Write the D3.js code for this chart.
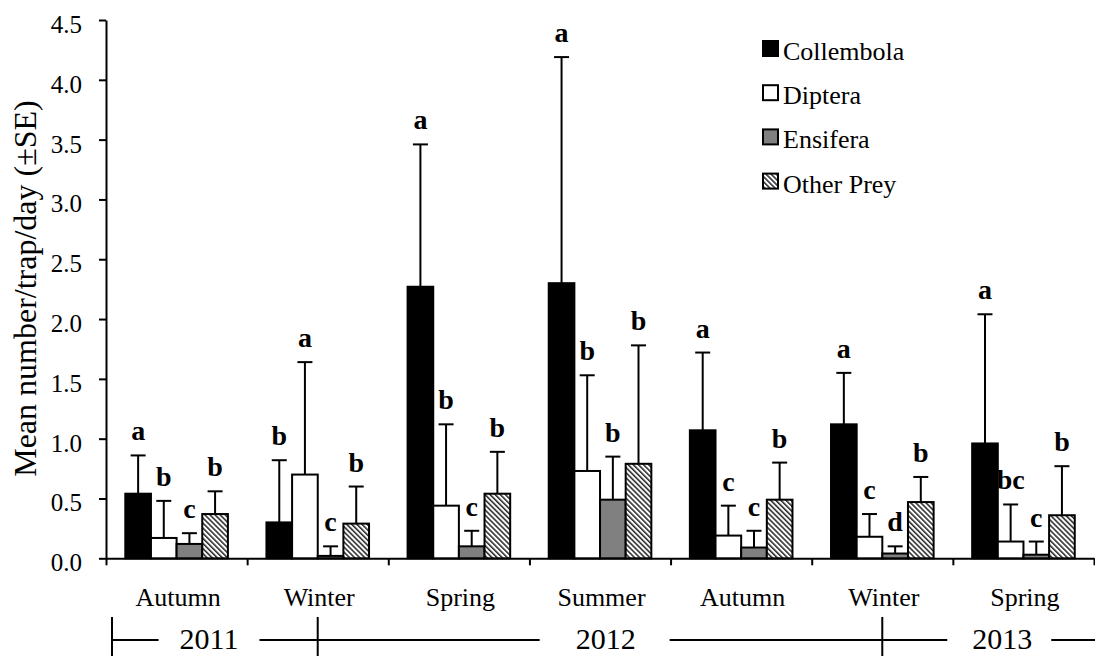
<!DOCTYPE html>
<html>
<head>
<meta charset="utf-8">
<script src="https://cdn.jsdelivr.net/npm/d3@7"></script>
<style>
body { margin: 0; background: #fff; }
text { font-family: "Liberation Serif", "Times New Roman", serif; fill: #000; }
</style>
</head>
<body>
<div class="chart"></div>
<script>
// data
var seasons = ["Autumn", "Winter", "Spring", "Summer", "Autumn", "Winter", "Spring"];
var years = ["2011", "2012", "2013"];
var groups = ["Collembola", "Diptera", "Ensifera", "Other Prey"];

var collembola = [0.54, 0.30, 2.27, 2.30, 1.07, 1.12, 0.96];
var collembolaSE = [0.32, 0.52, 1.19, 1.89, 0.65, 0.43, 1.08];
var diptera = [0.17, 0.70, 0.44, 0.73, 0.19, 0.18, 0.14];
var dipteraSE = [0.31, 0.94, 0.68, 0.80, 0.25, 0.19, 0.31];
var ensifera = [0.12, 0.02, 0.10, 0.49, 0.09, 0.04, 0.03];
var ensiferaSE = [0.09, 0.08, 0.13, 0.36, 0.14, 0.06, 0.11];
var otherPrey = [0.37, 0.29, 0.54, 0.79, 0.49, 0.47, 0.36];
var otherPreySE = [0.19, 0.31, 0.35, 0.99, 0.31, 0.21, 0.41];

var collembolaLetters = ["a", "b", "a", "a", "a", "a", "a"];
var dipteraLetters = ["b", "a", "b", "b", "c", "c", "bc"];
var ensiferaLetters = ["c", "c", "c", "b", "c", "d", "c"];
var otherPreyLetters = ["b", "b", "b", "b", "b", "b", "b"];

var yTicks = [0, 0.5, 1, 1.5, 2, 2.5, 3, 3.5, 4, 4.5];

//chart area
var svgWidth = 1095;
var svgHeight = 656;

var margin = {
    top: 20,
    left: 106
    };

var width = 988;
var height = 538.3;

var svg = d3
.select(".chart")
.append("svg")
.attr("width", svgWidth)
.attr("height", svgHeight);

var defs = svg.append("defs");
var hatch = defs.append("pattern")
    .attr("id", "hatch")
    .attr("patternUnits", "userSpaceOnUse")
    .attr("width", 3.6)
    .attr("height", 3.6)
    .attr("patternTransform", "rotate(-45)");
hatch.append("rect")
    .attr("width", 3.6)
    .attr("height", 3.6)
    .attr("fill", "#fff");
hatch.append("line")
    .attr("x1", 0.8).attr("x2", 0.8)
    .attr("y1", 0).attr("y2", 3.6)
    .attr("stroke", "#000")
    .attr("stroke-width", 1.3);

var fills = ["#000", "#fff", "#808080", "url(#hatch)"];

var chartGroup = svg.append("g")
.attr("transform", `translate(${margin.left}, ${margin.top})`);

// build rows from the arrays
var means = [collembola, diptera, ensifera, otherPrey];
var errors = [collembolaSE, dipteraSE, ensiferaSE, otherPreySE];
var letters = [collembolaLetters, dipteraLetters, ensiferaLetters, otherPreyLetters];

var rows = [];
seasons.forEach((s, i) => {
    groups.forEach((g, j) => {
        rows.push({
            season: i,
            group: j,
            mean: means[j][i],
            se: errors[j][i],
            letter: letters[j][i]
        });
    });
});

//scales
var x0 = d3.scaleBand()
    .domain(d3.range(seasons.length))
    .range([0, width]);

var x1 = d3.scaleBand()
    .domain(d3.range(groups.length))
    .range([19.3, 121.9]);

var xEdges = d3.scaleLinear()
    .domain([0, seasons.length])
    .range([0, width]);

var y = d3.scaleLinear()
    .domain([0, 4.5])
    .range([height, 0]);

//axes
var leftAxis = d3.axisLeft(y)
    .tickValues(yTicks)
    .tickFormat(d3.format(".1f"))
    .tickSize(7)
    .tickSizeOuter(0)
    .tickPadding(17);

var yAxis = chartGroup.append("g")
    .call(leftAxis);
yAxis.selectAll("text")
    .attr("font-family", "Liberation Serif, Times New Roman, serif")
    .style("font-size", "25px")
    .attr("dy", "0.5em");
yAxis.selectAll("line, path").attr("stroke-width", 2);

var bottomAxis = d3.axisBottom(xEdges)
    .tickValues(d3.range(seasons.length + 1))
    .tickFormat("")
    .tickSize(7)
    .tickSizeOuter(0);

var xAxis = chartGroup.append("g")
    .attr("transform", `translate(0, ${height})`)
    .call(bottomAxis);
xAxis.selectAll("line, path").attr("stroke-width", 2);

//bars
chartGroup.selectAll(".bar")
    .data(rows)
    .enter()
    .append("rect")
    .attr("class", "bar")
    .attr("x", d => x0(d.season) + x1(d.group))
    .attr("y", d => y(d.mean))
    .attr("width", x1.bandwidth())
    .attr("height", d => height - y(d.mean))
    .attr("fill", d => fills[d.group])
    .attr("stroke", "#000")
    .attr("stroke-width", 2);

//error bars
var errGroup = chartGroup.append("g")
    .attr("stroke", "#000")
    .attr("stroke-width", 2);

errGroup.selectAll(".stem")
    .data(rows)
    .enter()
    .append("line")
    .attr("x1", d => x0(d.season) + x1(d.group) + x1.bandwidth() / 2)
    .attr("x2", d => x0(d.season) + x1(d.group) + x1.bandwidth() / 2)
    .attr("y1", d => y(d.mean))
    .attr("y2", d => y(d.mean + d.se));

errGroup.selectAll(".cap")
    .data(rows)
    .enter()
    .append("line")
    .attr("x1", d => x0(d.season) + x1(d.group) + x1.bandwidth() / 2 - 7.5)
    .attr("x2", d => x0(d.season) + x1(d.group) + x1.bandwidth() / 2 + 7.5)
    .attr("y1", d => y(d.mean + d.se))
    .attr("y2", d => y(d.mean + d.se));

//letters
chartGroup.selectAll(".letter")
    .data(rows)
    .enter()
    .append("text")
    .attr("class", "letter")
    .attr("x", d => x0(d.season) + x1(d.group) + x1.bandwidth() / 2)
    .attr("y", d => y(d.mean + d.se) - 15)
    .attr("text-anchor", "middle")
    .style("font-size", "28px")
    .style("font-weight", "bold")
    .text(d => d.letter);

//season labels
chartGroup.selectAll(".season")
    .data(seasons)
    .enter()
    .append("text")
    .attr("x", (d, i) => x0(i) + x0.bandwidth() / 2 + 1.5)
    .attr("y", height + 48)
    .attr("text-anchor", "middle")
    .style("font-size", "26px")
    .text(d => d);

//y label
svg.append("text")
    .attr("transform", "translate(36, 288.5) rotate(-90)")
    .attr("text-anchor", "middle")
    .style("font-size", "32px")
    .text("Mean number/trap/day (\u00B1SE)");

//legend
var legend = svg.append("g")
    .attr("transform", "translate(763, 60)");

var legendRows = legend.selectAll("g")
    .data(groups)
    .enter()
    .append("g")
    .attr("transform", (d, i) => `translate(0, ${i * 44.2})`);

legendRows.append("rect")
    .attr("x", 0)
    .attr("y", -19)
    .attr("width", 15)
    .attr("height", 15)
    .attr("fill", (d, i) => fills[i])
    .attr("stroke", "#000")
    .attr("stroke-width", 2);

legendRows.append("text")
    .attr("x", 20)
    .attr("y", 0)
    .style("font-size", "26px")
    .text(d => d);

//year row under the seasons
var yearLineY = 640;
var yearLabelAt = [0.73, 3.54, 6.35];
var yearGaps = [[21, 21], [36, 34], [25, 19]];
var dividers = [xEdges(0) + 6, x0(1) + x0.bandwidth() / 2, x0(5) + x0.bandwidth() / 2];

var yearGroup = svg.append("g")
    .attr("transform", `translate(${margin.left}, 0)`);

var yearText = yearGroup.selectAll(".year")
    .data(years)
    .enter()
    .append("text")
    .attr("x", (d, i) => xEdges(yearLabelAt[i]))
    .attr("y", 649)
    .attr("text-anchor", "middle")
    .style("font-size", "30px")
    .text(d => d);

var edgesX = [];
yearText.each(function(d, i) {
    var w = this.getComputedTextLength();
    var cx = xEdges(yearLabelAt[i]);
    edgesX.push([cx - w / 2 - yearGaps[i][0], cx + w / 2 + yearGaps[i][1]]);
});

var segs = [[dividers[0], edgesX[0][0]]];
for (var k = 0; k < edgesX.length; k++) {
    var endX = k + 1 < edgesX.length ? edgesX[k + 1][0] : svgWidth - margin.left;
    segs.push([edgesX[k][1], endX]);
}

yearGroup.selectAll(".yline")
    .data(segs)
    .enter()
    .append("line")
    .attr("x1", d => d[0])
    .attr("x2", d => d[1])
    .attr("y1", yearLineY)
    .attr("y2", yearLineY)
    .attr("stroke", "#000")
    .attr("stroke-width", 2);

yearGroup.selectAll(".divider")
    .data(dividers)
    .enter()
    .append("line")
    .attr("x1", d => d)
    .attr("x2", d => d)
    .attr("y1", 617)
    .attr("y2", 656)
    .attr("stroke", "#000")
    .attr("stroke-width", 2);
</script>
</body>
</html>
